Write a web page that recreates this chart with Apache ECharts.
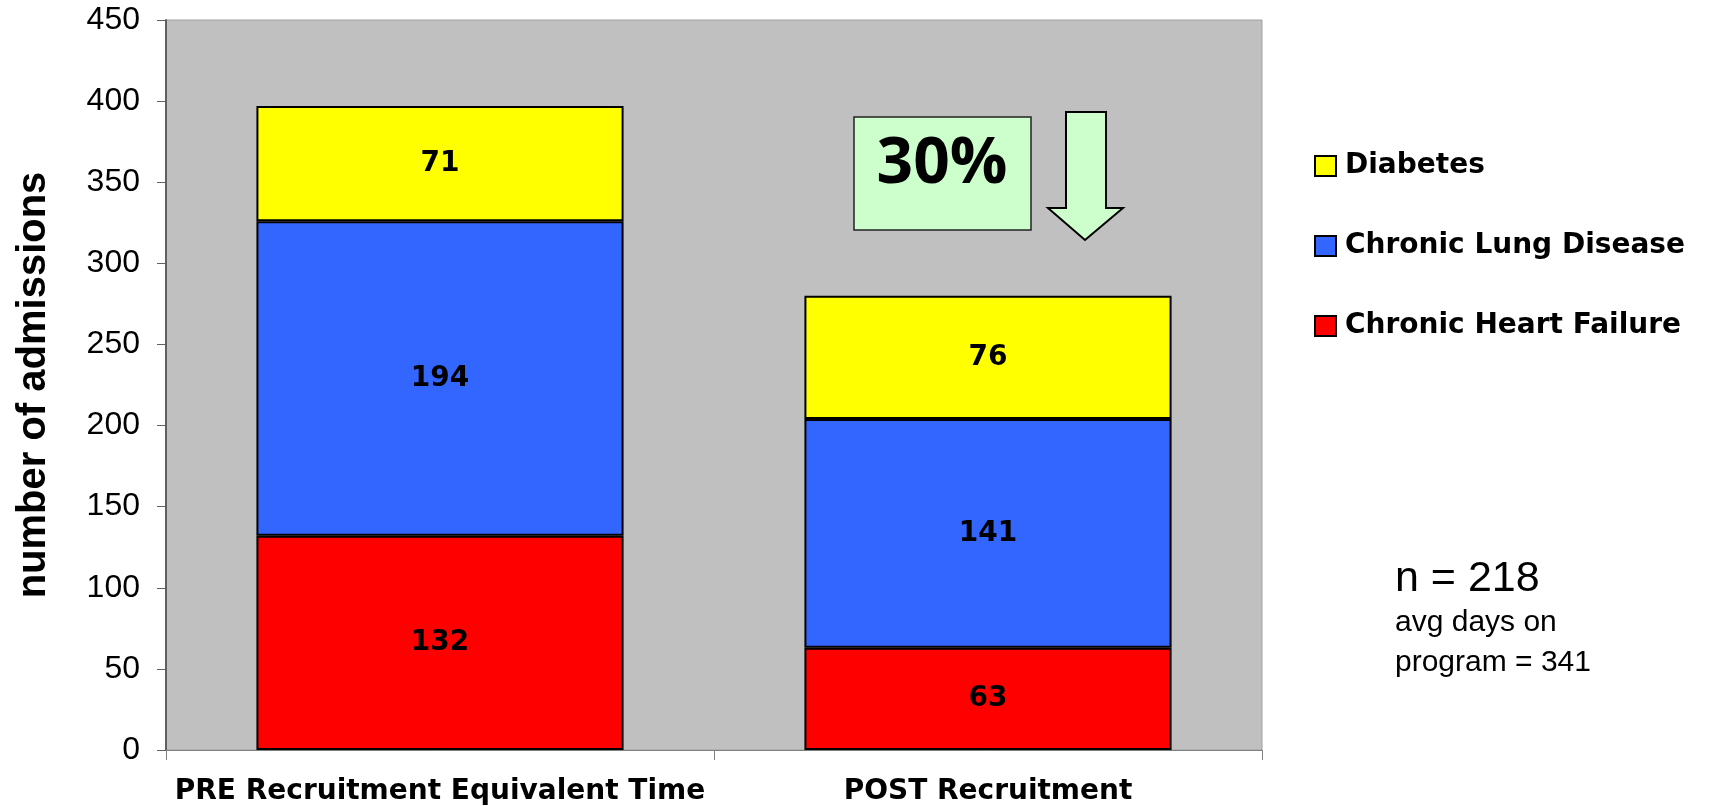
<!DOCTYPE html>
<html>
<head>
<meta charset="utf-8">
<script src="https://cdn.jsdelivr.net/npm/echarts@6/dist/echarts.min.js"></script>
<style>
html,body{margin:0;padding:0;background:#fff;}
#chart{width:1718px;height:806px;}
</style>
</head>
<body>
<div id="chart"></div>
<script>
const categories = ['PRE Recruitment Equivalent Time', 'POST Recruitment'];
const seriesNames = ['Chronic Heart Failure', 'Chronic Lung Disease', 'Diabetes'];
const heartFailure = [132, 63];
const lungDisease = [194, 141];
const diabetes = [71, 76];
const yTicks = { min: 0, max: 450, interval: 50 };
const legendOrder = ['Diabetes', 'Chronic Lung Disease', 'Chronic Heart Failure'];
const reductionText = '30%';
const noteLines = ['n = 218', 'avg days on', 'program = 341'];

const colors = ['#FF0000', '#3366FF', '#FFFF00'];
const values = [heartFailure, lungDisease, diabetes];
const FONT = '"Liberation Sans", Arial, sans-serif';
const WIDE = '"DejaVu Sans", "Liberation Sans", sans-serif';

const chart = echarts.init(document.getElementById('chart'), null, { renderer: 'canvas' });

const series = seriesNames.map((name, i) => ({
  name: name,
  type: 'bar',
  stack: 'total',
  data: values[i],
  barWidth: '67%',
  itemStyle: { color: colors[i], borderColor: '#000', borderWidth: 2 },
  label: {
    show: true,
    position: 'inside',
    color: '#000',
    fontFamily: WIDE,
    fontWeight: 'bold',
    fontSize: 28
  },
  emphasis: { disabled: true }
}));

chart.setOption({
  animation: false,
  backgroundColor: '#ffffff',
  grid: {
    left: 166, right: 456, top: 20, bottom: 56,
    show: true, backgroundColor: '#C0C0C0', borderColor: '#A0A0A0', borderWidth: 1
  },
  legend: {
    orient: 'vertical',
    left: 1309,
    top: 147,
    itemWidth: 21,
    itemHeight: 20,
    itemGap: 52,
    icon: 'rect',
    data: legendOrder,
    selectedMode: false,
    textStyle: { fontFamily: WIDE, fontWeight: 'bold', fontSize: 28, color: '#000', padding: [0, 0, 0, 4] }
  },
  xAxis: {
    type: 'category',
    data: categories,
    axisLine: { show: true, lineStyle: { color: '#808080', width: 1 } },
    axisTick: { show: true, length: 10, lineStyle: { color: '#808080' } },
    axisLabel: { interval: 0, margin: 28, fontFamily: WIDE, fontWeight: 'bold', fontSize: 28, color: '#000' },
    splitLine: { show: false }
  },
  yAxis: {
    type: 'value',
    min: yTicks.min,
    max: yTicks.max,
    interval: yTicks.interval,
    name: 'number of admissions',
    nameLocation: 'middle',
    nameGap: 112,
    nameTextStyle: { fontFamily: FONT, fontWeight: 'bold', fontSize: 40, color: '#000' },
    axisLine: { show: true, lineStyle: { color: '#606060', width: 2 } },
    axisTick: { show: true, length: 9, lineStyle: { color: '#606060', width: 1 } },
    axisLabel: { margin: 26, fontFamily: FONT, fontSize: 32, color: '#000' },
    splitLine: { show: false }
  },
  series: series,
  graphic: [
    {
      type: 'rect',
      shape: { x: 854, y: 117, width: 177, height: 113 },
      style: { fill: '#CCFFCC', stroke: '#222', lineWidth: 1.5 },
      z: 100
    },
    {
      type: 'text',
      x: 942, y: 165,
      style: {
        text: reductionText, fill: '#000',
        font: 'bold 64px "Open Sans", "Noto Sans", sans-serif',
        textAlign: 'center', textVerticalAlign: 'middle'
      },
      z: 101
    },
    {
      type: 'polygon',
      shape: { points: [[1066, 112], [1106, 112], [1106, 208], [1123, 208], [1085, 240], [1048, 208], [1066, 208]] },
      style: { fill: '#CCFFCC', stroke: '#000', lineWidth: 2 },
      z: 100
    },
    {
      type: 'text',
      x: 1395, y: 579,
      style: { text: noteLines[0], fill: '#000', font: '43px ' + FONT, textVerticalAlign: 'middle' }
    },
    {
      type: 'text',
      x: 1395, y: 623,
      style: { text: noteLines[1], fill: '#000', font: '30px ' + FONT, textVerticalAlign: 'middle' }
    },
    {
      type: 'text',
      x: 1395, y: 663,
      style: { text: noteLines[2], fill: '#000', font: '30px ' + FONT, textVerticalAlign: 'middle' }
    }
  ]
});
</script>
</body>
</html>
